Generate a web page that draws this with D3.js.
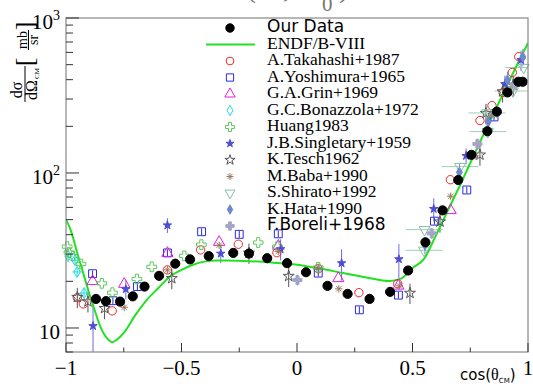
<!DOCTYPE html>
<html>
<head>
<meta charset="utf-8">
<script src="https://cdn.jsdelivr.net/npm/d3@7"></script>
<style>
  html, body { margin: 0; padding: 0; background: #fff; }
  svg { display: block; }
</style>
</head>
<body>
<svg id="chart" width="533" height="386"></svg>
<script>
// ---- data: differential cross section vs cos(theta_CM) ----
const ourCos = [-0.870,-0.827,-0.766,-0.711,-0.660,-0.597,-0.527,-0.463,-0.382,-0.276,-0.208,-0.129,-0.043,0.039,0.132,0.219,0.314,0.403,0.481,0.556,0.630,0.698,0.755,0.824,0.865,0.911,0.958,0.977];
const ourXs  = [15.4,14.9,14.8,16.0,18.5,21.7,26.0,27.7,29.1,30.5,30.2,28.2,26.2,22.9,18.7,16.6,15.4,17.1,23.5,35.7,57.4,90.1,131,186,249,331,388,388];

const endfCos = [-1,-0.98,-0.95,-0.92,-0.9,-0.88,-0.85,-0.82,-0.8,-0.78,-0.75,-0.7,-0.65,-0.6,-0.55,-0.5,-0.45,-0.4,-0.35,-0.3,-0.2,-0.1,0,0.1,0.2,0.3,0.4,0.45,0.5,0.55,0.6,0.65,0.7,0.75,0.8,0.85,0.9,0.95,1.0];
const endfXs  = [50,43,30,21.2,16.8,13.6,10.1,8.5,8.1,8.4,9.3,12.1,15.2,18.1,21.5,23.7,25.6,26.8,27.3,27.3,27.0,26.4,25.6,24.2,22.6,21.2,20.1,20.8,24.4,27.9,39.2,56.0,80.0,116,168,240,343,490,690];

const takCos = [-0.951,-0.925,-0.800,-0.561,-0.417,-0.254,-0.087,0.092,0.268,0.436,0.664,0.792,0.844,0.892,0.932,0.960];
const takXs  = [15.7,14.3,12.9,23.7,31.9,34.7,30.6,24.1,16.9,19.3,90.5,218,272,331,445,563];

const yosCos = [-0.885,-0.797,-0.691,-0.561,-0.413,-0.250,-0.081,0.092,0.270,0.439,0.595,0.735,0.853];
const yosXs  = [22.4,15.0,18.5,30.5,41.8,40.2,40.5,22.6,13.1,16.3,48.9,77.7,230];

const grinCos = [-0.885,-0.748,-0.561,-0.337,-0.081,0.179,0.439,0.665];
const grinXs  = [20.0,19.2,30.4,35.8,33.8,20.9,18.7,57.4];

const bonCos = [-0.991,-0.961,-0.952,-0.922];
const bonXs  = [29.1,27.4,23.0,16.8];

const huangCos = [-0.995,-0.987,-0.970,-0.935,-0.845,-0.799,-0.693,-0.629,-0.488,-0.414,-0.168,-0.085,0.092];
const huangXs  = [33.5,30.7,29.1,25.9,19.4,16.9,20.7,24.8,29.2,34.5,35.6,33.5,24.6];

const singCos = [-0.883,-0.741,-0.561,-0.330,-0.071,0.193,0.441,0.592,0.732,0.900,0.970];
const singXs  = [10.3,17.8,46.0,30.2,32.3,26.2,27.8,58.7,129,375,536];
const singErr = [5.6,2.5,5,4,5,6,7,10,15,50,80];

const teschCos = [-0.951,-0.905,-0.833,-0.542,-0.208,-0.036,0.489,0.619,0.792,0.818,0.890,0.936];
const teschXs  = [15.8,14.8,13.4,20.9,30.5,21.6,16.8,48.5,131,243,335,370];

const babaCos = [-0.884,-0.748,-0.561,-0.337,-0.081,0.092,0.181,0.443,0.665,0.771,0.843,0.929];
const babaXs  = [15.3,13.6,23.7,34.2,31.1,24.6,17.9,18.7,70.8,129,237,360];

const shirCos = [0.552,0.550,0.706,0.823,0.826,0.935,0.981];
const shirXs  = [43.1,31.7,110,244,185,338,479];

const hataCos = [0.554,0.703,0.828,0.911,0.978];
const hataXs  = [34.3,101,214,398,560];

const borCos = [0.002,0.583,0.781,0.865,0.944];
const borXs  = [20.4,40.8,154,246,370];

const xTickLabels = ["\u22121", "\u22120.5", "0", "0.5", "1"];
const yDecades = [10, 100, 1000];

// ---- layout ----
const W = 533, H = 386;
const plot = { left: 66, right: 528, top: 18, bottom: 352 };

const svg = d3.select("#chart");
svg.append("rect").attr("width", W).attr("height", H).attr("fill", "#fff");

const x = d3.scaleLinear().domain([-1, 1]).range([plot.left, plot.right]);
const y = d3.scaleLog().domain([7, 1000]).range([plot.bottom, plot.top]);

svg.append("clipPath").attr("id", "clip")
  .append("rect")
  .attr("x", plot.left).attr("y", plot.top)
  .attr("width", plot.right - plot.left).attr("height", plot.bottom - plot.top);

// title (mostly above the page edge)
const title = svg.append("text")
  .attr("font-family", "Liberation Serif, serif")
  .attr("fill", "#777")
  .attr("font-size", 30)
  .attr("y", -3);
title.append("tspan").attr("x", 205).text("d");
title.append("tspan").attr("x", 246).text("(n");
title.append("tspan").attr("x", 283).text(",");
title.append("tspan").attr("x", 300).text("n");
title.append("tspan").attr("x", 322).attr("font-size", 21).attr("dy", 14).text("0");
title.append("tspan").attr("x", 339).attr("dy", -14).text(")");

// ---- marker shapes ----
const asterisk = {
  draw(ctx, size) {
    const r = Math.sqrt(size) / 2;
    for (let k = 0; k < 4; k++) {
      const a = k * Math.PI / 4;
      ctx.moveTo(r * Math.cos(a), r * Math.sin(a));
      ctx.lineTo(-r * Math.cos(a), -r * Math.sin(a));
    }
  }
};

const zip = (c, v, e) => c.map((d, i) => ({ c: d, v: v[i], e: e ? e[i] : null }));
const rel = (v, f) => v.map(d => d * f);

const series = [
  { name: "A.Takahashi+1987", pts: zip(takCos, takXs), type: d3.symbolCircle, size: 55, stroke: "#e82a2a", fill: "none" },
  { name: "A.Yoshimura+1965", pts: zip(yosCos, yosXs, rel(yosXs, 0.05)), type: d3.symbolSquare, size: 62, stroke: "#2a2ae0", fill: "none", eColor: "#2a2ae0" },
  { name: "G.A.Grin+1969", pts: zip(grinCos, grinXs), type: d3.symbolTriangle, size: 55, stroke: "#e01ee0", fill: "none" },
  { name: "G.C.Bonazzola+1972", pts: zip(bonCos, bonXs, rel(bonXs, 0.06)), type: d3.symbolDiamond, size: 36, stroke: "#1ed8e4", fill: "none", eColor: "#1ed8e4", hErr: 0.02 },
  { name: "Huang1983", pts: zip(huangCos, huangXs), type: d3.symbolCross, size: 52, stroke: "#5ec85e", fill: "none" },
  { name: "J.B.Singletary+1959", pts: zip(singCos, singXs, singErr), type: d3.symbolStar, size: 22, stroke: "#4d4dd4", fill: "#4d4dd4", eColor: "#6b6be0" },
  { name: "K.Tesch1962", pts: zip(teschCos, teschXs, rel(teschXs, 0.15)), type: d3.symbolStar, size: 38, stroke: "#555", fill: "none", eColor: "#555" },
  { name: "M.Baba+1990", pts: zip(babaCos, babaXs), type: asterisk, size: 56, stroke: "#9a7a5c", fill: "none" },
  { name: "S.Shirato+1992", pts: zip(shirCos, shirXs), type: d3.symbolTriangle, size: 52, stroke: "#86c0a2", fill: "none", flip: true, eColor: "#9fd0b4", hErr: 0.08 },
  { name: "K.Hata+1990", pts: zip(hataCos, hataXs, rel(hataXs, 0.13)), type: d3.symbolDiamond, size: 30, stroke: "#7089cc", fill: "#7089cc", eColor: "#7089cc" },
  { name: "F.Boreli+1968", pts: zip(borCos, borXs, rel(borXs, 0.08)), type: d3.symbolCross, size: 45, stroke: "#a4a4c6", fill: "#a4a4c6", eColor: "#a4a4c6", sans: true }
];

const ours = { name: "Our Data", pts: zip(ourCos, ourXs, rel(ourXs, 0.05)), type: d3.symbolCircle, size: 66, stroke: "#000", fill: "#000", eColor: "#000", sans: true };

const clipped = svg.append("g").attr("clip-path", "url(#clip)");
const marks = svg.append("g");

function drawSeries(s) {
  const eg = clipped.append("g").attr("stroke", s.eColor || s.stroke).attr("stroke-width", 1);
  s.pts.forEach(p => {
    if (p.e != null) {
      eg.append("line")
        .attr("x1", x(p.c)).attr("x2", x(p.c))
        .attr("y1", y(Math.max(p.v - p.e, 1))).attr("y2", y(p.v + p.e));
    }
    if (s.hErr) {
      eg.append("line")
        .attr("x1", x(p.c - s.hErr)).attr("x2", x(p.c + s.hErr))
        .attr("y1", y(p.v)).attr("y2", y(p.v));
    }
  });
  const sym = d3.symbol().type(s.type).size(s.size);
  marks.append("g").selectAll("path").data(s.pts).join("path")
    .attr("d", sym)
    .attr("transform", p => `translate(${x(p.c)},${y(p.v)})` + (s.flip ? " rotate(180)" : ""))
    .attr("fill", s.fill)
    .attr("stroke", s.stroke)
    .attr("stroke-width", 1);
}

series.forEach(drawSeries);

// ENDF/B-VIII evaluation
const endfLine = d3.line()
  .x(d => x(d.c)).y(d => y(d.v))
  .curve(d3.curveMonotoneX);
clipped.append("path")
  .datum(zip(endfCos, endfXs))
  .attr("d", endfLine)
  .attr("fill", "none")
  .attr("stroke", "#22e022")
  .attr("stroke-width", 2);

drawSeries(ours);

// ---- frame and axes ----
svg.append("rect")
  .attr("x", plot.left).attr("y", plot.top)
  .attr("width", plot.right - plot.left).attr("height", plot.bottom - plot.top)
  .attr("fill", "none").attr("stroke", "#888").attr("stroke-width", 1.2);

const axisG = svg.append("g").attr("stroke", "#333").attr("stroke-width", 1);
// y ticks: decades long, intermediates short, pointing into the frame
y.ticks().forEach(t => {
  const major = yDecades.includes(t);
  axisG.append("line")
    .attr("x1", plot.left).attr("x2", plot.left + (major ? 13 : 7))
    .attr("y1", y(t)).attr("y2", y(t));
});
// x ticks
d3.range(-1, 1.001, 0.25).forEach(t => {
  const major = Math.abs(t * 2 - Math.round(t * 2)) < 1e-6;
  axisG.append("line")
    .attr("x1", x(t)).attr("x2", x(t))
    .attr("y1", plot.bottom).attr("y2", plot.bottom - (major ? 9 : 4.5));
});

const serif = "Liberation Serif, Times New Roman, serif";
const sans = "DejaVu Sans, sans-serif";

// x tick labels
x.ticks(4).forEach((t, i) => {
  svg.append("text")
    .attr("x", x(t)).attr("y", 375)
    .attr("text-anchor", "middle")
    .attr("font-family", serif).attr("font-size", 21)
    .text(xTickLabels[i]);
});

// y tick labels (powers of ten)
yDecades.forEach(t => {
  const p = Math.round(Math.log10(t));
  const txt = svg.append("text")
    .attr("x", 60).attr("y", y(t) + 11)
    .attr("text-anchor", "end")
    .attr("font-family", serif).attr("font-size", 21);
  txt.append("tspan").text("10");
  if (p > 1) txt.append("tspan").attr("font-size", 14).attr("dy", -9).text(p);
});

// x axis title
const xt = svg.append("text").attr("x", 460).attr("y", 380)
  .attr("font-family", sans).attr("font-size", 15);
xt.append("tspan").text("cos(");
xt.append("tspan").attr("font-family", serif).attr("font-size", 16).text("\u03b8");
xt.append("tspan").attr("font-size", 7).attr("dy", 3).text("CM");
xt.append("tspan").attr("dy", -3).text(")");

// y axis title: fraction dσ/dΩ_CM followed by [mb/sr]
const yt = svg.append("g").attr("transform", "translate(0,102) rotate(-90)")
  .attr("font-family", serif);
yt.append("text").attr("x", 12).attr("y", 22).attr("text-anchor", "middle").attr("font-size", 16).text("d\u03c3");
yt.append("line").attr("x1", 0).attr("x2", 36).attr("y1", 25).attr("y2", 25).attr("stroke", "#000").attr("stroke-width", 1);
yt.append("text").attr("x", 12).attr("y", 37).attr("text-anchor", "middle").attr("font-size", 16).text("d\u03a9");
yt.append("text").attr("x", 23).attr("y", 39).attr("font-size", 7).text("CM");
yt.append("text").attr("x", 40).attr("y", 33).attr("text-anchor", "middle").attr("font-size", 26).text("[");
yt.append("text").attr("x", 62).attr("y", 27).attr("text-anchor", "middle").attr("font-size", 14).text("mb");
yt.append("line").attr("x1", 52).attr("x2", 72).attr("y1", 28.5).attr("y2", 28.5).attr("stroke", "#000").attr("stroke-width", 1);
yt.append("text").attr("x", 62).attr("y", 38).attr("text-anchor", "middle").attr("font-size", 14).text("sr");
yt.append("text").attr("x", 76).attr("y", 33).attr("text-anchor", "middle").attr("font-size", 26).text("]");

// ---- legend ----
const legendEntries = [ours, { name: "ENDF/B-VIII", line: true }].concat(series);
const lg = svg.append("g");
const lgX = 230, lgText = 267, lgBase = 32, lgStep = 16.5;
legendEntries.forEach((s, i) => {
  const base = lgBase + i * lgStep;
  const cy = base - 4;
  if (s.line) {
    lg.append("line").attr("x1", 206).attr("x2", 255).attr("y1", cy).attr("y2", cy)
      .attr("stroke", "#22e022").attr("stroke-width", 2);
  } else {
    lg.append("path")
      .attr("d", d3.symbol().type(s.type).size(s.size * 0.85)())
      .attr("transform", `translate(${lgX},${cy})` + (s.flip ? " rotate(180)" : ""))
      .attr("fill", s.fill).attr("stroke", s.stroke).attr("stroke-width", 1);
  }
  lg.append("text")
    .attr("x", lgText).attr("y", base)
    .attr("font-family", s.sans ? sans : serif)
    .attr("font-size", s.sans ? 17 : 17.5)
    .text(s.name);
});
</script>
</body>
</html>
